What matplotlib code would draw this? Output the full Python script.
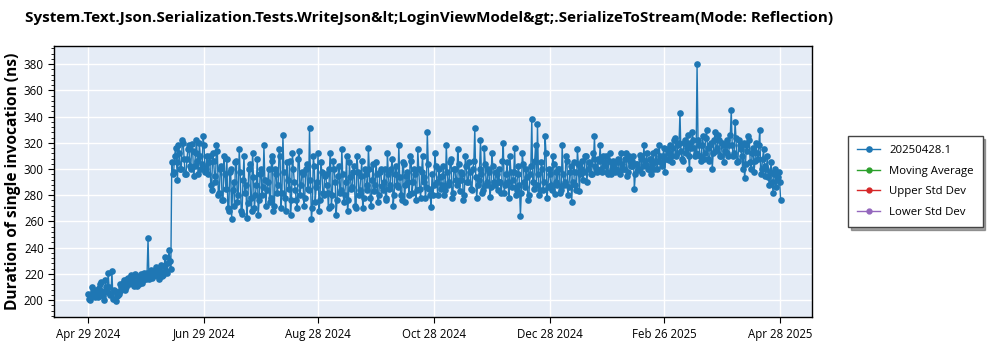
import matplotlib
matplotlib.use("Agg")
import matplotlib.pyplot as plt
import matplotlib.dates as mdates
from matplotlib.ticker import MultipleLocator
import pandas as pd

start_date = "2024-04-29"
# two readings per day (morning / evening run), per month segment
seg_apr_may = [201,203,207,202,205,209,214,206,200,210,221,204,222,208,199,204,207]
seg_apr_may_b = [205,200,210,204,208,202,212,207,203,215,206,210,205,201,207,203,205]
seg_may_jun = [210,213,208,216,212,219,214,220,211,215,218,213,221,216,247,219,217,222,225,218,216,227,219,233,221,238,224]
seg_may_jun_b = [212,209,215,210,217,213,216,211,218,214,212,220,215,218,221,216,223,218,220,224,219,222,218,226,222,228,230]
seg_jun = [296,310,305,318,300,322,308,296,315,302,319,295,312,306,320,300,325,298,310]
seg_jun_b = [305,298,316,292,312,300,320,296,308,318,300,314,302,322,296,310,304,318,300]
seg_jul = [305,288,312,295,318,280,300,276,310,285,270,298,262,290,305,275,315,268,292,282,263,300,278,312,270,288,265,296,280,318,272]
seg_jul_b = [296,310,284,306,290,314,282,302,276,296,308,268,300,284,272,306,280,298,266,310,288,274,304,268,294,280,308,276,300,286,292]
seg_aug = [290,275,310,268,300,282,315,270,326,278,305,285,265,312,290,276,308,280,298,272,300,285,331,262,310,275,290,268,305,282,295]
seg_aug_b = [284,300,278,306,272,296,288,310,282,298,268,292,306,276,300,284,270,314,288,296,278,304,284,292,270,302,286,312,276,298,280]
seg_sep = [288,270,312,280,300,265,295,282,315,275,290,268,305,285,298,272,310,280,295,270,300,288,316,278,292,283,305,275,298,287]
seg_sep_b = [296,282,300,272,306,290,276,302,284,296,280,310,276,294,286,302,270,298,284,306,278,296,284,300,272,304,288,296,280,300]
seg_oct = [290,278,312,285,300,272,296,288,318,280,305,275,295,290,310,282,300,276,315,285,298,290,278,328,285,271,280,312,290,300,285]
seg_oct_b = [284,300,276,296,288,308,280,302,286,294,276,304,288,298,280,306,290,296,284,300,278,310,294,286,304,280,296,288,302,280,294]
seg_nov = [295,280,318,288,305,278,300,292,315,283,298,276,310,290,305,285,300,331,278,292,322,282,316,288,300,279,312,290,298,284]
seg_nov_b = [288,302,284,298,290,308,282,300,288,304,292,296,280,302,290,298,284,306,294,288,300,296,284,304,290,298,286,302,288,296]
seg_dec = [290,282,320,288,305,278,298,292,316,284,302,264,312,290,300,276,296,338,285,318,334,280,305,284,325,278,300,288,310,281,298]
seg_dec_b = [300,290,306,282,296,290,310,286,298,280,296,288,282,304,286,294,280,302,290,306,288,296,284,300,290,312,286,296,284,304,290]
seg_jan = [300,282,318,288,310,280,298,275,305,288,315,283,300,292,310,290,305,296,312,325,300,308,318,298,305,310,296,312,300,306,298]
seg_jan_b = [288,300,284,296,290,306,286,302,290,298,284,304,296,306,298,310,300,304,296,308,302,298,306,300,310,302,298,306,296,304,300]
seg_feb = [305,298,312,300,308,295,310,302,306,285,304,299,311,297,318,303,300,308,296,312,305,300,318,305,310,298,315,307]
seg_feb_b = [300,308,296,304,300,312,298,306,302,310,296,304,300,308,302,306,312,300,308,304,300,314,306,310,302,316,308,312]
seg_mar = [312,305,322,310,318,343,308,320,312,326,300,316,322,310,380,318,306,325,312,330,308,318,300,322,314,326,310,320,305,318,312]
seg_mar_b = [318,310,316,324,312,320,314,306,322,316,310,320,328,316,312,322,310,318,308,324,316,306,320,312,328,316,322,310,318,314,322]
seg_apr = [318,345,310,336,305,322,315,300,293,318,325,305,312,298,320,308,330,300,315,295,310,288,305,282,300,292,298,276]
seg_apr_b = [310,326,318,312,324,306,318,310,320,304,314,322,300,316,306,312,318,296,308,302,300,294,298,290,296,286,294,290]

segments = [
    (seg_apr_may, seg_apr_may_b), (seg_may_jun, seg_may_jun_b), (seg_jun, seg_jun_b),
    (seg_jul, seg_jul_b), (seg_aug, seg_aug_b), (seg_sep, seg_sep_b), (seg_oct, seg_oct_b),
    (seg_nov, seg_nov_b), (seg_dec, seg_dec_b), (seg_jan, seg_jan_b), (seg_feb, seg_feb_b),
    (seg_mar, seg_mar_b), (seg_apr, seg_apr_b),
]
values = []
for a, b in segments:
    for va, vb in zip(a, b):
        values.extend([vb, va])
dates = pd.date_range(start_date, periods=len(values), freq="12h")

tick_dates = ["2024-04-29", "2024-06-29", "2024-08-28", "2024-10-28",
              "2024-12-28", "2025-02-26", "2025-04-28"]
series_names = ["20250428.1", "Moving Average", "Upper Std Dev", "Lower Std Dev"]
series_colors = ["#1f77b4", "#2ca02c", "#d62728", "#9467bd"]

plt.rcParams["font.family"] = ["Open Sans", "DejaVu Sans"]

fig = plt.figure(figsize=(10, 3.5), dpi=100)
ax = fig.add_axes([0.054, 0.094, 0.758, 0.775])
ax.set_facecolor("#e5ecf6")

ax.plot(dates, values, color=series_colors[0], lw=1.0, marker="o", ms=4.8,
        markeredgewidth=0, label=series_names[0], zorder=3)
for name, col in zip(series_names[1:], series_colors[1:]):
    ax.plot([], [], color=col, lw=1.0, marker="o", ms=3.5, label=name)

ax.set_ylim(187, 394)
ax.set_xlim(pd.Timestamp("2024-04-11"), pd.Timestamp("2025-05-15"))
ax.yaxis.set_major_locator(MultipleLocator(20))
ax.yaxis.set_minor_locator(MultipleLocator(4))
ax.set_xticks([pd.Timestamp(d) for d in tick_dates])
ax.xaxis.set_major_formatter(mdates.DateFormatter("%b %d %Y"))
ax.grid(True, which="major", color="white", lw=1.0, zorder=0)
ax.set_axisbelow(True)
ax.tick_params(axis="both", which="major", labelsize=8.3, length=4, color="black")
ax.tick_params(axis="y", which="minor", length=2)
for s in ax.spines.values():
    s.set_color("black")
    s.set_linewidth(1.0)

ax.set_ylabel("Duration of single invocation (ns)", fontsize=11.2, fontweight="bold", labelpad=2)
fig.text(0.025, 0.948, "System.Text.Json.Serialization.Tests.WriteJson&lt;LoginViewModel&gt;.SerializeToStream(Mode: Reflection)",
         fontsize=11.0, fontweight="bold", ha="left", va="center")

leg = fig.legend(loc="upper left", bbox_to_anchor=(0.848, 0.612), fontsize=8.2,
                 frameon=True, fancybox=False, shadow=True, edgecolor="#444444",
                 borderpad=0.8, labelspacing=0.85, handlelength=2.0, borderaxespad=0)
leg.get_frame().set_linewidth(1.0)

fig.savefig("out.png", dpi=100)
